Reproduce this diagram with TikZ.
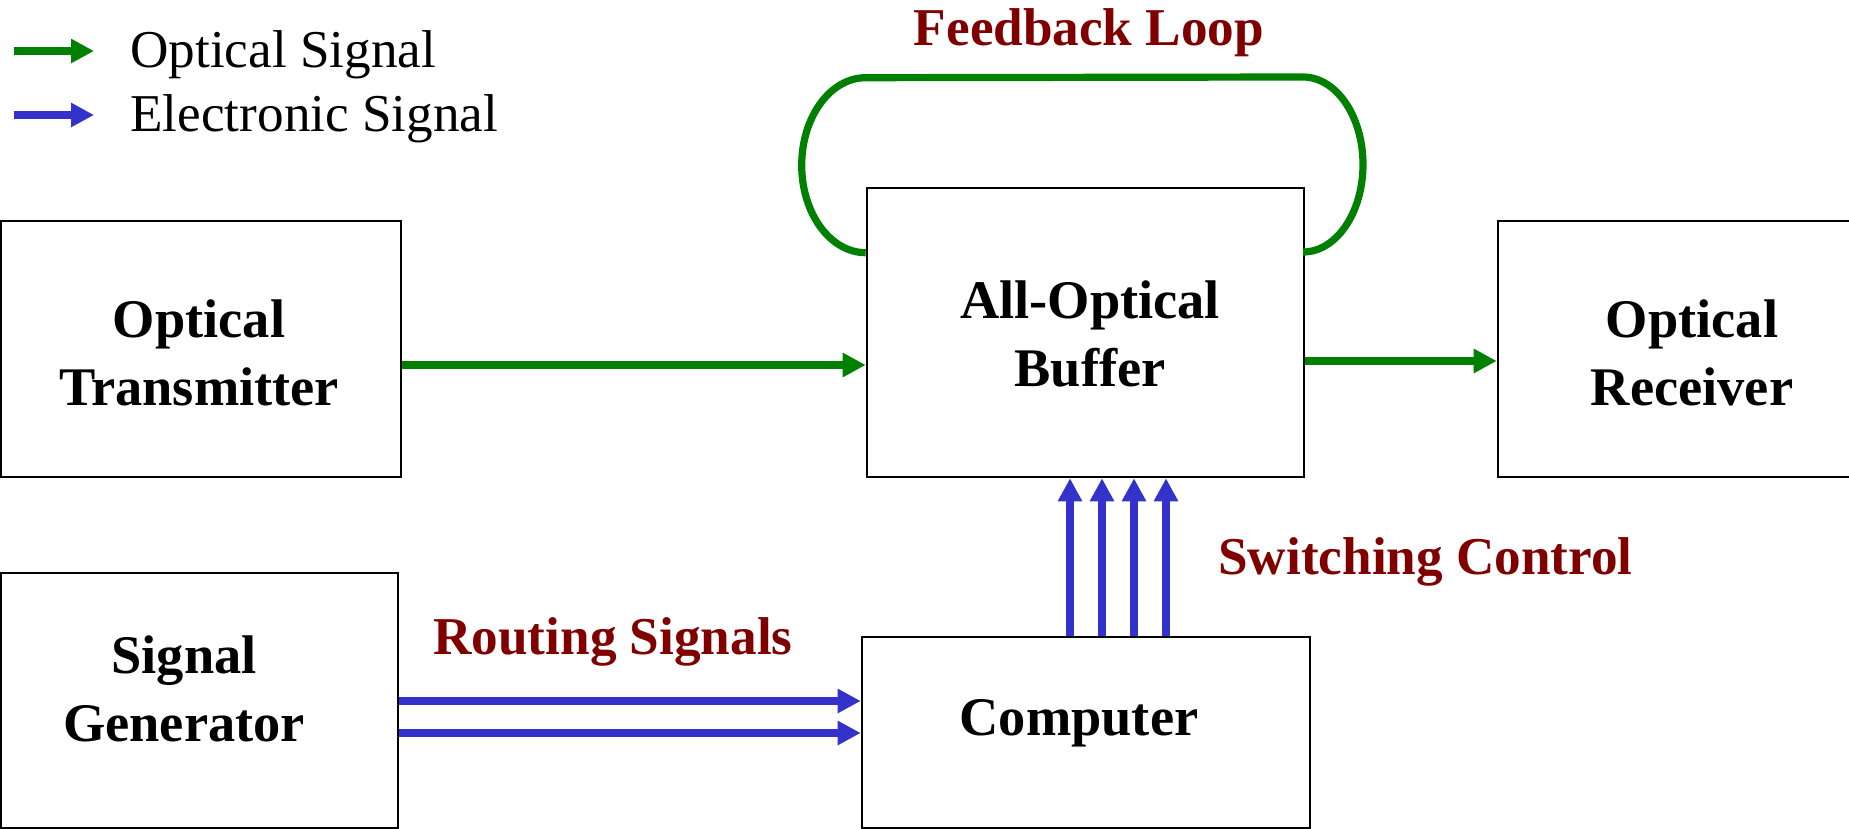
\documentclass[tikz,border=0pt]{standalone}
\usepackage{fontspec}
\setmainfont{Liberation Serif}
\usetikzlibrary{arrows.meta}
\definecolor{optgreen}{RGB}{0,128,0}
\definecolor{elblue}{RGB}{51,51,204}
\definecolor{lblred}{RGB}{128,0,0}
\tikzset{
  blockbox/.style={draw=black, line width=1.3pt, rectangle, inner sep=0pt},
  blocktext/.style={font=\fontsize{27.2}{34}\selectfont\bfseries, align=center, inner sep=0pt},
  sigtip/.style={-{Triangle[length=11.5pt,width=11.5pt]}},
  optline/.style={sigtip, draw=optgreen, line width=4pt},
  elline/.style={sigtip, draw=elblue, line width=4pt},
  redlabel/.style={font=\fontsize{26.6}{32}\selectfont\bfseries, text=lblred, inner sep=0pt},
  keytext/.style={font=\fontsize{26.6}{30}\selectfont, inner sep=0pt, anchor=base west},
}
\begin{document}
\begin{tikzpicture}[x=0.5pt,y=-0.5pt]
\useasboundingbox (0,0) rectangle (1849,829);
\clip (0,0) rectangle (1849,829);
\fill[white] (0,0) rectangle (1849,829);

% blocks
\node[blockbox, minimum width=200pt, minimum height=128pt] (trans) at (201,349) {};
\node[blockbox, minimum width=198.5pt, minimum height=127.5pt] (gen) at (199.5,700.5) {};
\node[blockbox, minimum width=218.5pt, minimum height=144.5pt] (buf) at (1085.5,332.5) {};
\node[blockbox, minimum width=224pt, minimum height=95.5pt] (comp) at (1086,732.5) {};
\node[blockbox, minimum width=196pt, minimum height=128pt] (recv) at (1694,349) {};

% block captions
\node[blocktext] (transtxt) at (199,353) {Optical\\Transmitter};
\node[blocktext] (gentxt) at (184,689) {Signal\\Generator};
\node[blocktext] (buftxt) at (1090,334) {All-Optical\\Buffer};
\node[blocktext] (comptxt) at (1079,723) {Computer};
\node[blocktext] (recvtxt) at (1692,353) {Optical\\Receiver};

% legend
\coordinate (kg0) at (14,51);  \coordinate (kg1) at (94,51);
\coordinate (kb0) at (14,115); \coordinate (kb1) at (94,115);
\draw[optline] (kg0) -- (kg1);
\draw[elline] (kb0) -- (kb1);
\node[keytext] (keyopt) at (130,68) {Optical Signal};
\node[keytext] (keyel) at (130,132) {Electronic Signal};

% optical path
\coordinate (oy1) at (0,365);
\coordinate (oy2) at (0,361);
\draw[optline] (trans.east |- oy1) -- (buf.west |- oy1);
\draw[optline] (buf.east |- oy2) -- (recv.west |- oy2);

% feedback loop around the buffer
\draw[draw=optgreen, line width=3.6pt]
  ([yshift=-33pt]buf.north west)
  arc[start angle=90, end angle=270, x radius=64, y radius=87.5]
  -- (1303,77)
  arc[start angle=-90, end angle=90, x radius=60, y radius=87.5];

% routing signals
\coordinate (ry1) at (0,701);
\coordinate (ry2) at (0,733);
\draw[elline] (gen.east |- ry1) -- (comp.west |- ry1);
\draw[elline] (gen.east |- ry2) -- (comp.west |- ry2);

% switching control
\foreach \cx [count=\i] in {1070,1102,1134,1166} {
  \coordinate (sx\i) at (\cx,0);
  \draw[elline] (comp.north -| sx\i) -- (buf.south -| sx\i);
}

% labels
\node[redlabel, anchor=base] (fbl) at (1089,46) {Feedback Loop};
\node[redlabel, anchor=base west] (rsl) at (433,654) {Routing Signals};
\node[redlabel, anchor=base west] (scl) at (1218,574) {Switching Control};
\end{tikzpicture}
\end{document}
